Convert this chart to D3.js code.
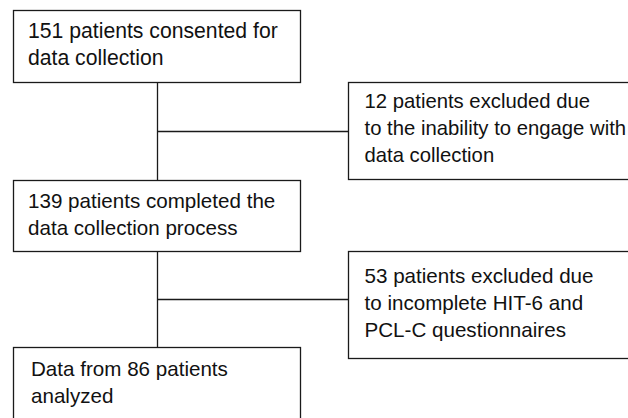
<!DOCTYPE html>
<html><head><meta charset="utf-8">
<script src="https://cdn.jsdelivr.net/npm/d3@7"></script>
<style>html,body{margin:0;padding:0;background:#fff;}svg{display:block;}</style>
</head><body>
<svg id="c" width="628" height="418"></svg>
<script>
// Flow steps (main column)
const mainSteps = [
  ["151 patients consented for", "data collection"],
  ["139 patients completed the", "data collection process"],
  ["Data from 86 patients", "analyzed"]
];
// Exclusions (side column)
const exclusions = [
  ["12 patients excluded due", "to the inability to engage with", "data collection"],
  ["53 patients excluded due", "to incomplete HIT-6 and", "PCL-C questionnaires"]
];
const counts = [151, 139, 86];
const excluded = [12, 53];

const svg = d3.select("#c");
const stroke = "#1a1a1a";
const mainFont = [21.2, 20.6, 20.6];
const sideFont = [20.3, 20.6];
const lineH = 26.8;
const family = "Liberation Sans, Arial, Helvetica, sans-serif";

// layout scales
const yMainTop = d3.scaleOrdinal().domain([0,1,2]).range([10, 180, 347]);
const mainH = 72;
const xMain = {x0: 13, x1: 300};
const xSide = {x0: 348.5, x1: 640};
const sideTop = i => yMainTop(i) + mainH;
const sideBot = d3.scaleOrdinal().domain([0,1]).range([179, 358]);

const g = svg.append("g").attr("fill","none").attr("stroke",stroke).attr("stroke-width",1.3);

// main boxes
mainSteps.forEach((lines,i)=>{
  const top = yMainTop(i);
  const h = i===2 ? 80 : mainH - (i===1?1:0);
  g.append("rect").attr("x",xMain.x0+0.5).attr("y",top+0.5).attr("width",xMain.x1-xMain.x0).attr("height",h);
  const tx = i===2 ? 31 : 28;
  const t = svg.append("text").attr("font-family",family)
    .attr("font-size",mainFont[i]).attr("fill","#111");
  lines.forEach((l,j)=> t.append("tspan").attr("x",tx).attr("y",top+28+(i===2?1:0)+j*lineH).text(l));
});

// connectors
const cx = 157.5;
[0,1].forEach(i=>{
  const b = yMainTop(i) + mainH - (i===1?1:0);
  const nt = yMainTop(i+1);
  g.append("line").attr("x1",cx).attr("x2",cx).attr("y1",b).attr("y2",nt);
  const by = Math.round((b+nt)/2)+0.5;
  g.append("line").attr("x1",cx).attr("x2",xSide.x0).attr("y1",by).attr("y2",by);
});

// side boxes
exclusions.forEach((lines,i)=>{
  const top = sideTop(i) - (i===1?1:0);
  const bot = sideBot(i);
  g.append("rect").attr("x",xSide.x0).attr("y",top+0.5).attr("width",xSide.x1-xSide.x0).attr("height",bot-top);
  const t = svg.append("text").attr("font-family",family)
    .attr("font-size",sideFont[i]).attr("fill","#111");
  lines.forEach((l,j)=> t.append("tspan").attr("x",364.5).attr("y",top+26+j*lineH+(i===1?6:0)).text(l));
});
</script>
</body></html>
